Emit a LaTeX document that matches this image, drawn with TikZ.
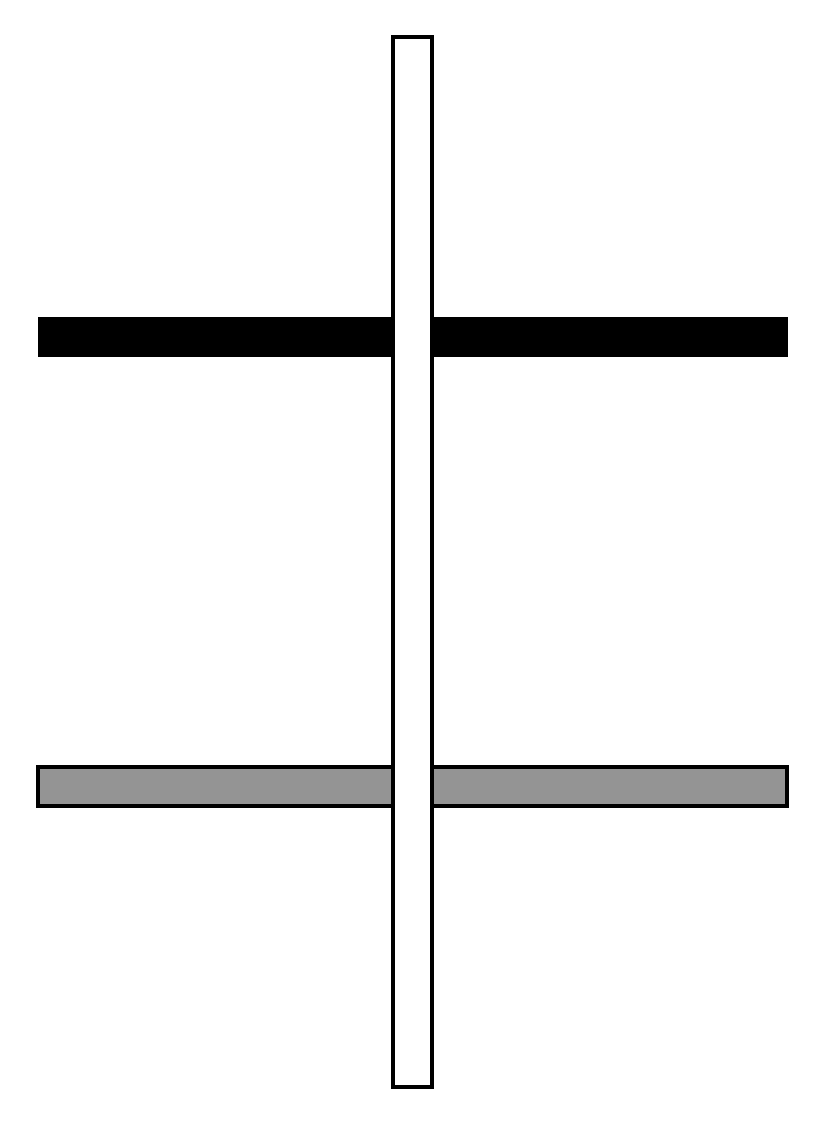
\documentclass[tikz,border=0pt]{standalone}
\usepackage{xcolor}
\definecolor{slab}{HTML}{949494}
\usetikzlibrary{positioning}
\tikzset{
  bar/.style={draw=black, line width=3.5pt},
  topbar/.style={bar, fill=black},
  lowbar/.style={bar, fill=slab},
  post/.style={bar, fill=white},
}
\begin{document}
\begin{tikzpicture}[x=1pt, y=-1pt]
  \useasboundingbox (0,0) rectangle (825,1125);
  \draw[topbar] (40,319) rectangle (786,355);
  \draw[lowbar] (38,767) rectangle (787,806);
  \draw[post] (393,37) rectangle (432,1087);
\end{tikzpicture}
\end{document}
